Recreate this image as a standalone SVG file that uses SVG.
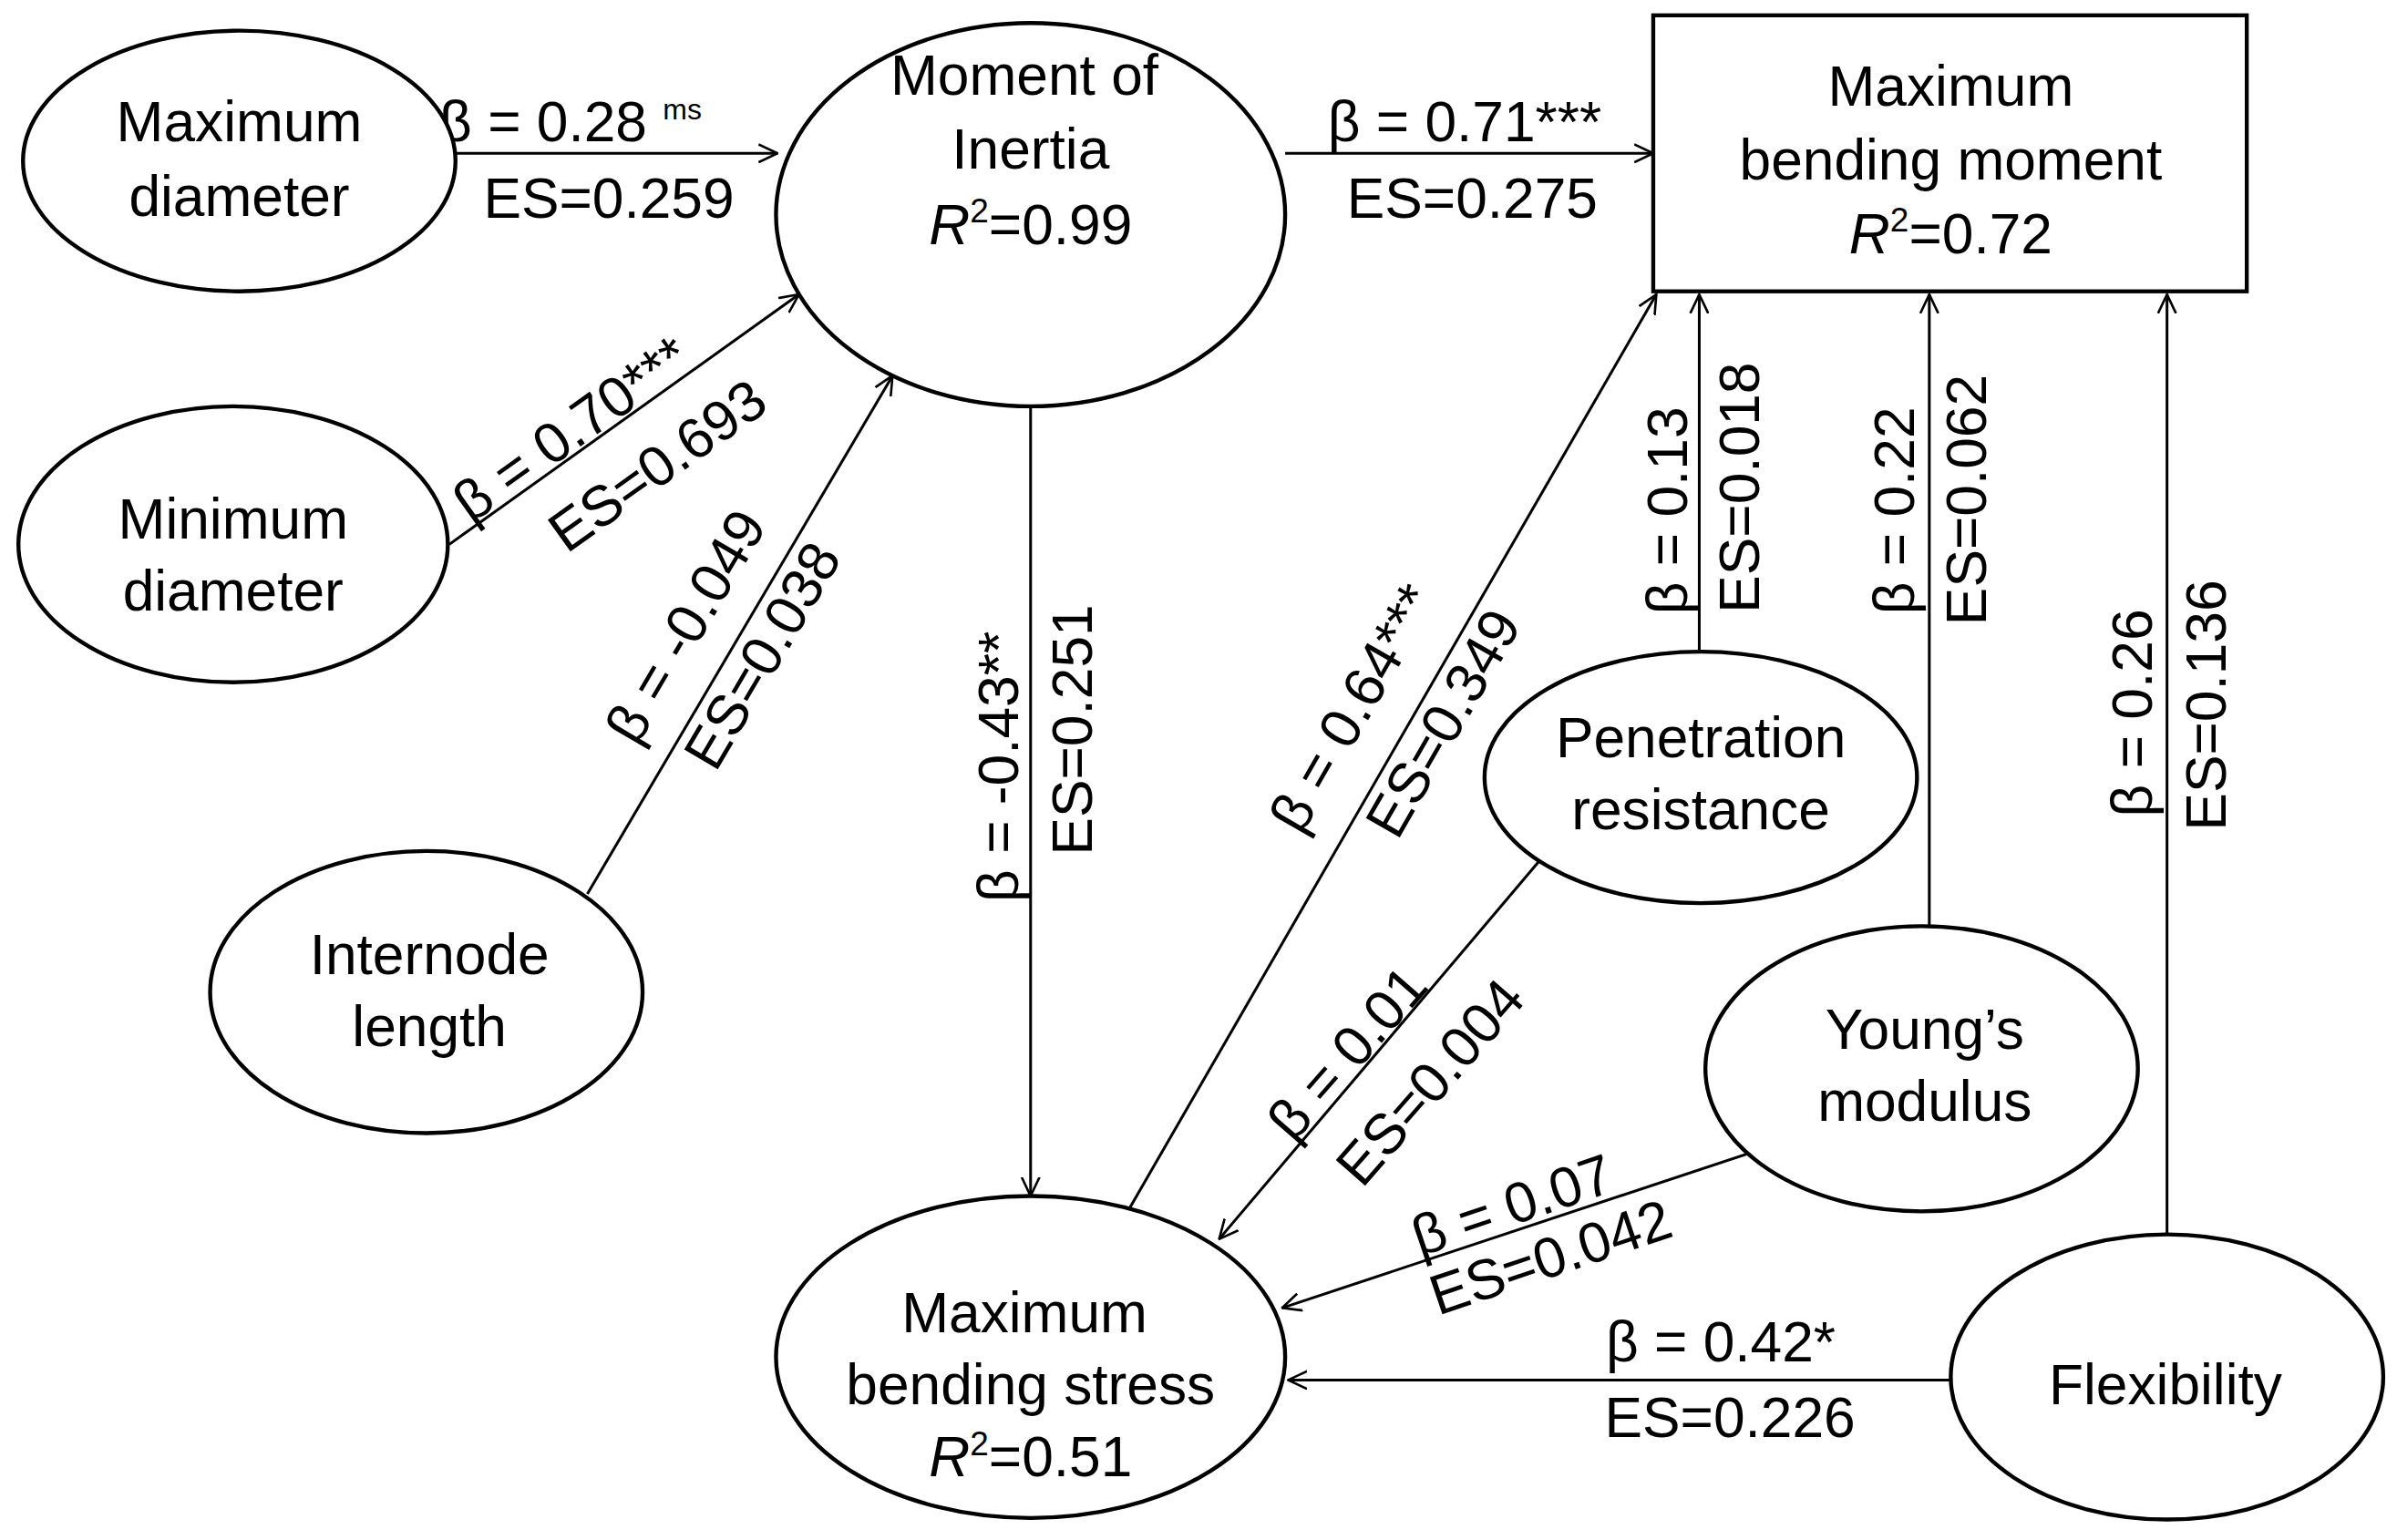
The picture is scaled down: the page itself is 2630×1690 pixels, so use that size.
<svg xmlns="http://www.w3.org/2000/svg" width="2630" height="1690" viewBox="0 0 2630 1690">
<style>
.n{fill:#fff;stroke:#000;stroke-width:2.6}
.t{font-family:"Liberation Sans",Arial,sans-serif;font-size:37px;fill:#000;text-anchor:middle}
.c{stroke:#000;stroke-width:1.8;fill:none;marker-end:url(#a)}
</style>
<defs><marker id="a" viewBox="0 0 20 20" refX="19" refY="10" markerWidth="13" markerHeight="13" markerUnits="userSpaceOnUse" orient="auto"><path d="M0,1 L19,10 L0,19" fill="none" stroke="#000" stroke-width="2.4"/></marker></defs>
<rect width="2630" height="1690" fill="#fff"/>
<g transform="scale(1.6827)">
<g id="connectors">
<line class="c" x1="297" y1="100" x2="507" y2="100"/>
<line class="c" x1="838" y1="100" x2="1078" y2="100"/>
<line class="c" x1="293" y1="355" x2="521" y2="192"/>
<line class="c" x1="383" y1="583" x2="582" y2="245"/>
<line class="c" x1="672" y1="265" x2="672" y2="780"/>
<line class="c" x1="725" y1="808" x2="1080" y2="192"/>
<line class="c" x1="1108" y1="425" x2="1108" y2="192"/>
<line class="c" x1="1258" y1="605" x2="1258" y2="192"/>
<line class="c" x1="1413" y1="825" x2="1413" y2="192"/>
<line class="c" x1="1005" y1="560" x2="795" y2="808"/>
<line class="c" x1="1162" y1="745" x2="836" y2="853"/>
<line class="c" x1="1272" y1="900" x2="840" y2="900"/>
<text class="t" x="372" y="92">β = 0.28 <tspan font-size="19" dy="-14">ms</tspan></text>
<text class="t" x="397" y="142">ES=0.259</text>
<text class="t" x="955" y="92">β = 0.71***</text>
<text class="t" x="960" y="142">ES=0.275</text>
<text class="t" transform="translate(380,290) rotate(-35.5)">β = 0.70***</text>
<text class="t" transform="translate(436,314) rotate(-35.5)">ES=0.693</text>
<text class="t" transform="translate(458,415) rotate(-59.5)">β = -0.049</text>
<text class="t" transform="translate(508,434) rotate(-59.5)">ES=0.038</text>
<text class="t" transform="translate(664,500) rotate(-90)">β = -0.43**</text>
<text class="t" transform="translate(712,476) rotate(-90)">ES=0.251</text>
<text class="t" transform="translate(893,468) rotate(-60.1)">β = 0.64***</text>
<text class="t" transform="translate(952,478) rotate(-60.1)">ES=0.349</text>
<text class="t" transform="translate(1100,333) rotate(-90)">β = 0.13</text>
<text class="t" transform="translate(1147,318) rotate(-90)">ES=0.018</text>
<text class="t" transform="translate(1248,333) rotate(-90)">β = 0.22</text>
<text class="t" transform="translate(1295,326) rotate(-90)">ES=0.062</text>
<text class="t" transform="translate(1403,465) rotate(-90)">β = 0.26</text>
<text class="t" transform="translate(1451,460) rotate(-90)">ES=0.136</text>
<text class="t" transform="translate(888,695) rotate(-48.8)">β = 0.01</text>
<text class="t" transform="translate(942,714) rotate(-48.8)">ES=0.004</text>
<text class="t" transform="translate(990,798) rotate(-18.7)">β = 0.07</text>
<text class="t" transform="translate(1015,832) rotate(-18.7)">ES=0.042</text>
<text class="t" x="1122" y="888">β = 0.42*</text>
<text class="t" x="1128" y="937">ES=0.226</text>
</g>
<g id="maxdia"><ellipse class="n" cx="156" cy="105" rx="141" ry="85"/><text class="t" x="156" y="92">Maximum</text><text class="t" x="156" y="141">diameter</text></g>
<g id="moi"><ellipse class="n" cx="672" cy="140" rx="166" ry="125"/><text class="t" x="668" y="62">Moment of</text><text class="t" x="672" y="110">Inertia</text><text class="t" x="672" y="159"><tspan font-style="italic">R</tspan><tspan font-size="22" dy="-14">2</tspan><tspan dy="14">=0.99</tspan></text></g>
<g id="mbm"><rect class="n" x="1078" y="10" width="387" height="180"/><text class="t" x="1272" y="69">Maximum</text><text class="t" x="1272" y="117">bending moment</text><text class="t" x="1272" y="165"><tspan font-style="italic">R</tspan><tspan font-size="22" dy="-14">2</tspan><tspan dy="14">=0.72</tspan></text></g>
<g id="mindia"><ellipse class="n" cx="152" cy="355" rx="140" ry="90"/><text class="t" x="152" y="351">Minimum</text><text class="t" x="152" y="398">diameter</text></g>
<g id="internode"><ellipse class="n" cx="278" cy="647" rx="141" ry="92"/><text class="t" x="280" y="635">Internode</text><text class="t" x="280" y="682">length</text></g>
<g id="pr"><ellipse class="n" cx="1109" cy="507" rx="141" ry="82"/><text class="t" x="1109" y="494">Penetration</text><text class="t" x="1109" y="541">resistance</text></g>
<g id="ym"><ellipse class="n" cx="1253" cy="697" rx="141" ry="93"/><text class="t" x="1255" y="684">Young’s</text><text class="t" x="1255" y="731">modulus</text></g>
<g id="mbs"><ellipse class="n" cx="672" cy="885" rx="166" ry="105"/><text class="t" x="668" y="869">Maximum</text><text class="t" x="672" y="916">bending stress</text><text class="t" x="672" y="963"><tspan font-style="italic">R</tspan><tspan font-size="22" dy="-14">2</tspan><tspan dy="14">=0.51</tspan></text></g>
<g id="flex"><ellipse class="n" cx="1413" cy="898" rx="141" ry="93"/><text class="t" x="1412" y="916">Flexibility</text></g>
</g>
</svg>
